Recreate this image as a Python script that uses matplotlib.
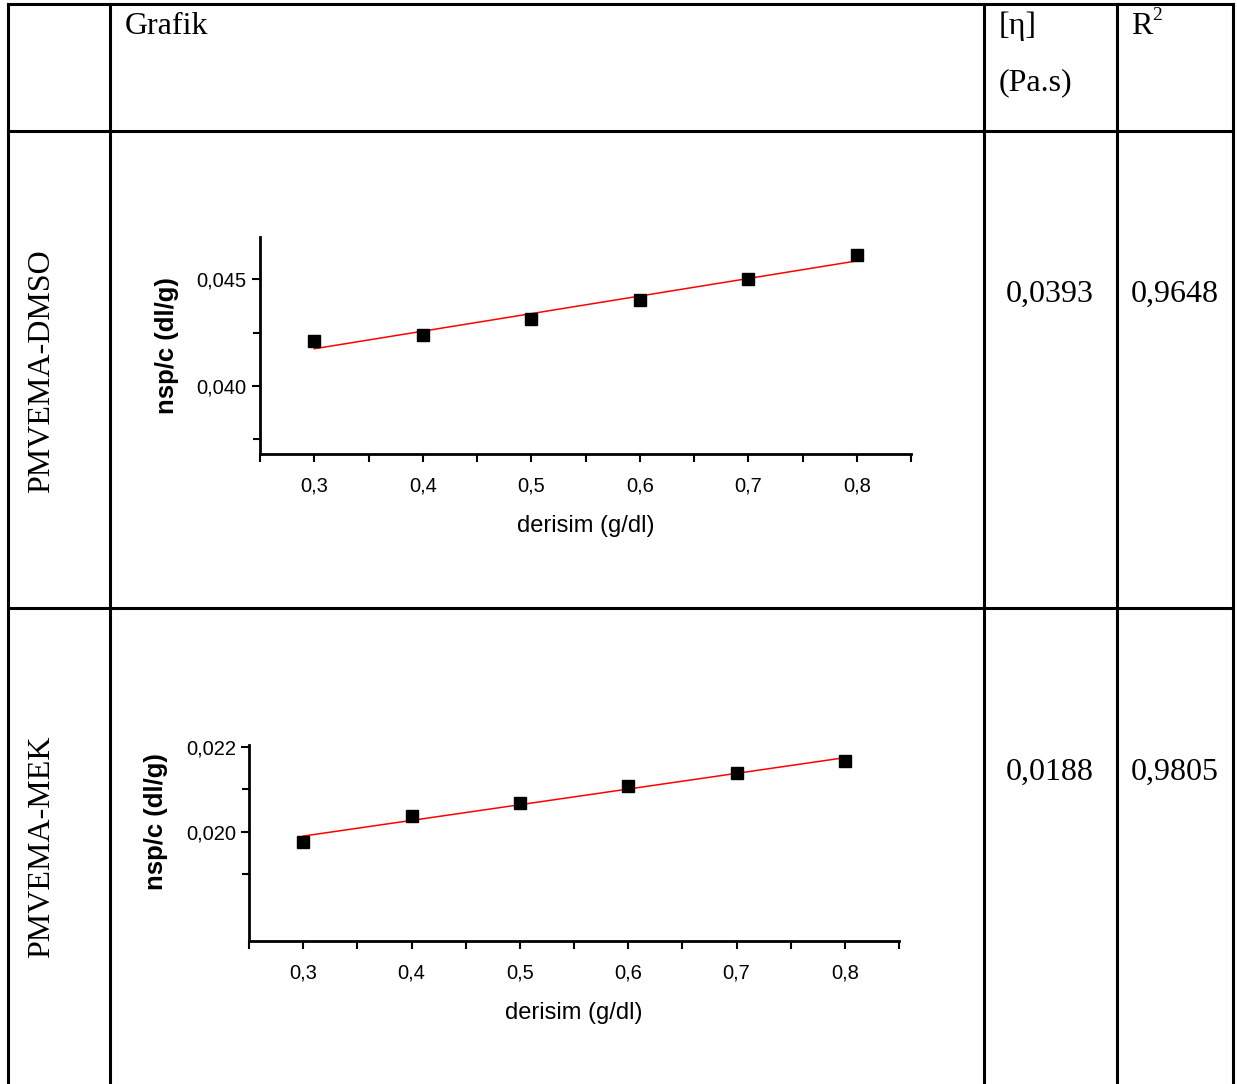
import numpy as np
import matplotlib.pyplot as plt
from matplotlib.ticker import FixedLocator, FuncFormatter

# veriler
derisim = [0.3, 0.4, 0.5, 0.6, 0.7, 0.8]
dmso_nsp = [0.04212, 0.04239, 0.04313, 0.04401, 0.04500, 0.04613]
mek_nsp = [0.019765, 0.020376, 0.020667, 0.021082, 0.021373, 0.021663]

satir_adlari = ['PMVEMA-DMSO', 'PMVEMA-MEK']
eta_degerleri = ['0,0393', '0,0188']
r2_degerleri = ['0,9648', '0,9805']

W, H = 1237, 1084
fig = plt.figure(figsize=(W / 100, H / 100), dpi=100)

serif = ['Liberation Serif', 'DejaVu Serif']
sans = ['Liberation Sans', 'DejaVu Sans']


def rect(x0, y0, x1, y1):
    return [x0 / W, 1 - y1 / H, (x1 - x0) / W, (y1 - y0) / H]


# tablo çizgileri
bg = fig.add_axes([0, 0, 1, 1])
bg.set_xlim(0, W)
bg.set_ylim(H, 0)
bg.axis('off')
for x in [8, 110, 984, 1117, 1233]:
    bg.plot([x, x], [4, H], color='black', lw=2.2)
for y in [4, 131, 608]:
    bg.plot([8, 1233], [y, y], color='black', lw=2.2)

bg.text(125, 34, 'Grafik', family=serif, fontsize=23)
bg.text(999, 34, '[η]', family=serif, fontsize=23)
bg.text(999, 90, '(Pa.s)', family=serif, fontsize=23)
bg.text(1131, 34, 'R', family=serif, fontsize=23)
bg.text(1152, 20, '2', family=serif, fontsize=14)

satir_y = [294, 772]
etiket_y = [371, 847]
for i in range(2):
    bg.text(1050, satir_y[i], eta_degerleri[i], family=serif, fontsize=23,
            ha='center', va='center')
    bg.text(1175, satir_y[i], r2_degerleri[i], family=serif, fontsize=23,
            ha='center', va='center')
    bg.text(42, etiket_y[i], satir_adlari[i], family=serif, fontsize=23,
            ha='center', va='center', rotation=90)


def grafik(ax, y, ylim, majors, minors, ylabel_pos):
    a, b = np.polyfit(derisim, y, 1)
    xs = np.array([derisim[0], derisim[-1]])
    ax.plot(xs, a * xs + b, color='red', lw=1.1)
    ax.plot(derisim, y, 's', color='black', ms=8.5)
    ax.set_xlim(0.25, 0.85)
    ax.set_ylim(*ylim)
    for s in ['top', 'right']:
        ax.spines[s].set_visible(False)
    for s in ['left', 'bottom']:
        ax.spines[s].set_linewidth(2)
    ax.xaxis.set_major_locator(FixedLocator(derisim))
    ax.xaxis.set_minor_locator(FixedLocator([0.25, 0.35, 0.45, 0.55, 0.65, 0.75, 0.85]))
    ax.yaxis.set_major_locator(FixedLocator(majors))
    ax.yaxis.set_minor_locator(FixedLocator(minors))
    fmt = FuncFormatter(lambda v, p: f'{v:.1f}'.replace('.', ','))
    ax.xaxis.set_major_formatter(fmt)
    yfmt = FuncFormatter(lambda v, p: f'{v:.3f}'.replace('.', ','))
    ax.yaxis.set_major_formatter(yfmt)
    ax.tick_params(which='major', length=6, width=1.5, labelsize=14.5)
    ax.tick_params(which='minor', length=5, width=1.5)
    ax.tick_params(axis='x', which='both', length=6, pad=10)
    for lab in ax.get_xticklabels() + ax.get_yticklabels():
        lab.set_family(sans)
    ax.set_xlabel('derisim (g/dl)', family=sans, fontsize=17, labelpad=14)
    ax.set_ylabel('nsp/c (dl/g)', family=sans, fontsize=18.5, fontweight='bold')
    ax.yaxis.set_label_coords(*ylabel_pos)


ax1 = fig.add_axes(rect(260, 237, 911, 454))
grafik(ax1, dmso_nsp, (0.03682, 0.04697), [0.040, 0.045], [0.0375, 0.0425],
       (-0.125, 0.5))

ax2 = fig.add_axes(rect(249, 745, 899, 941))
grafik(ax2, mek_nsp, (0.017435, 0.02204), [0.020, 0.022], [0.019, 0.021],
       (-0.125, 0.61))

plt.savefig('out.png', dpi=100)
